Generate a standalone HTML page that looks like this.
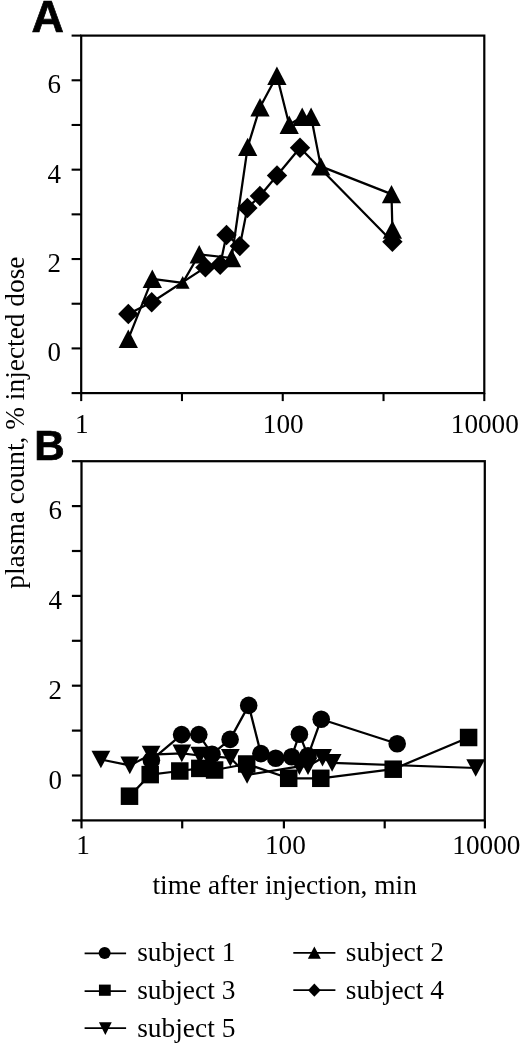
<!DOCTYPE html>
<html lang="en"><head><meta charset="utf-8"><title>Figure</title>
<style>
html,body{margin:0;padding:0;background:#fff;}
body{width:520px;height:1045px;overflow:hidden;}
svg{display:block;}
.s{font-family:"Liberation Serif","Times New Roman",serif;fill:#000;}
.b{font-family:"Liberation Sans",Arial,sans-serif;font-weight:bold;fill:#000;}
</style></head><body>

<svg width="520" height="1045" viewBox="0 0 520 1045">
<rect width="520" height="1045" fill="#fff"/>
<defs><filter id="soft" x="0" y="0" width="100%" height="100%" filterUnits="objectBoundingBox"><feGaussianBlur stdDeviation="0.38"/></filter></defs>
<g filter="url(#soft)">
<rect width="520" height="1045" fill="#fff"/>
<g stroke="#000" fill="none" stroke-linecap="butt">
<rect x="81.2" y="35.6" width="403.10" height="357.50" stroke-width="2.2"/>
<line x1="71.60000000000001" y1="393.10" x2="81.2" y2="393.10" stroke-width="2.1"/>
<line x1="71.60000000000001" y1="348.41" x2="81.2" y2="348.41" stroke-width="2.1"/>
<line x1="71.60000000000001" y1="303.73" x2="81.2" y2="303.73" stroke-width="2.1"/>
<line x1="71.60000000000001" y1="259.04" x2="81.2" y2="259.04" stroke-width="2.1"/>
<line x1="71.60000000000001" y1="214.35" x2="81.2" y2="214.35" stroke-width="2.1"/>
<line x1="71.60000000000001" y1="169.66" x2="81.2" y2="169.66" stroke-width="2.1"/>
<line x1="71.60000000000001" y1="124.98" x2="81.2" y2="124.98" stroke-width="2.1"/>
<line x1="71.60000000000001" y1="80.29" x2="81.2" y2="80.29" stroke-width="2.1"/>
<line x1="71.60000000000001" y1="35.60" x2="81.2" y2="35.60" stroke-width="2.1"/>
<line x1="81.20" y1="393.1" x2="81.20" y2="401.1" stroke-width="2.1"/>
<line x1="181.98" y1="393.1" x2="181.98" y2="401.1" stroke-width="2.1"/>
<line x1="282.75" y1="393.1" x2="282.75" y2="401.1" stroke-width="2.1"/>
<line x1="383.53" y1="393.1" x2="383.53" y2="401.1" stroke-width="2.1"/>
<line x1="484.30" y1="393.1" x2="484.30" y2="401.1" stroke-width="2.1"/>
</g>
<text class="s" transform="translate(60.9,361.41) scale(0.97,1)" font-size="27.8" text-anchor="end">0</text>
<text class="s" transform="translate(60.9,272.04) scale(0.97,1)" font-size="27.8" text-anchor="end">2</text>
<text class="s" transform="translate(60.9,182.66) scale(0.97,1)" font-size="27.8" text-anchor="end">4</text>
<text class="s" transform="translate(60.9,93.29) scale(0.97,1)" font-size="27.8" text-anchor="end">6</text>
<text class="s" transform="translate(81.70,432.8) scale(0.98,1)" font-size="27.8" text-anchor="middle">1</text>
<text class="s" transform="translate(283.25,432.8) scale(0.98,1)" font-size="27.8" text-anchor="middle">100</text>
<text class="s" transform="translate(484.80,432.8) scale(0.98,1)" font-size="27.8" text-anchor="middle">10000</text>
<polyline fill="none" stroke="#000" stroke-width="2.25" stroke-linejoin="round" points="128.30,338.80 152.30,278.80 182.70,282.90 199.20,254.30 231.60,258.00 247.70,146.90 260.00,107.20 276.90,75.80 289.20,124.80 302.20,116.80 311.10,116.80 320.80,166.40 391.50,194.10 392.40,229.60"/>
<polyline fill="none" stroke="#000" stroke-width="2.25" stroke-linejoin="round" points="128.30,314.00 151.70,302.30 205.40,267.40 220.20,264.80 226.50,235.00 239.80,246.10 247.40,208.00 259.90,196.00 277.00,175.50 300.00,147.80 392.40,241.70"/>
<g fill="#000">
<polygon points="118.65,348.00 137.95,348.00 128.30,329.60"/>
<polygon points="142.65,288.00 161.95,288.00 152.30,269.60"/>
<polygon points="175.80,288.70 189.60,288.70 182.70,276.10"/>
<polygon points="189.55,263.50 208.85,263.50 199.20,245.10"/>
<polygon points="221.95,267.20 241.25,267.20 231.60,248.80"/>
<polygon points="238.05,156.10 257.35,156.10 247.70,137.70"/>
<polygon points="250.35,116.40 269.65,116.40 260.00,98.00"/>
<polygon points="267.25,85.00 286.55,85.00 276.90,66.60"/>
<polygon points="279.55,134.00 298.85,134.00 289.20,115.60"/>
<polygon points="292.55,126.00 311.85,126.00 302.20,107.60"/>
<polygon points="301.45,126.00 320.75,126.00 311.10,107.60"/>
<polygon points="311.15,175.60 330.45,175.60 320.80,157.20"/>
<polygon points="381.85,203.30 401.15,203.30 391.50,184.90"/>
<polygon points="382.75,238.80 402.05,238.80 392.40,220.40"/>
<polygon points="118.10,314.00 128.30,303.80 138.50,314.00 128.30,324.20"/>
<polygon points="141.50,302.30 151.70,292.10 161.90,302.30 151.70,312.50"/>
<polygon points="195.20,267.40 205.40,257.20 215.60,267.40 205.40,277.60"/>
<polygon points="210.00,264.80 220.20,254.60 230.40,264.80 220.20,275.00"/>
<polygon points="216.30,235.00 226.50,224.80 236.70,235.00 226.50,245.20"/>
<polygon points="229.60,246.10 239.80,235.90 250.00,246.10 239.80,256.30"/>
<polygon points="237.20,208.00 247.40,197.80 257.60,208.00 247.40,218.20"/>
<polygon points="249.70,196.00 259.90,185.80 270.10,196.00 259.90,206.20"/>
<polygon points="266.80,175.50 277.00,165.30 287.20,175.50 277.00,185.70"/>
<polygon points="289.80,147.80 300.00,137.60 310.20,147.80 300.00,158.00"/>
<polygon points="382.20,241.70 392.40,231.50 402.60,241.70 392.40,251.90"/>
</g>
<g stroke="#000" fill="none" stroke-linecap="butt">
<rect x="81.5" y="461.2" width="403.30" height="359.20" stroke-width="2.25"/>
<line x1="71.9" y1="820.40" x2="81.5" y2="820.40" stroke-width="2.2"/>
<line x1="71.9" y1="775.50" x2="81.5" y2="775.50" stroke-width="2.2"/>
<line x1="71.9" y1="730.60" x2="81.5" y2="730.60" stroke-width="2.2"/>
<line x1="71.9" y1="685.70" x2="81.5" y2="685.70" stroke-width="2.2"/>
<line x1="71.9" y1="640.80" x2="81.5" y2="640.80" stroke-width="2.2"/>
<line x1="71.9" y1="595.90" x2="81.5" y2="595.90" stroke-width="2.2"/>
<line x1="71.9" y1="551.00" x2="81.5" y2="551.00" stroke-width="2.2"/>
<line x1="71.9" y1="506.10" x2="81.5" y2="506.10" stroke-width="2.2"/>
<line x1="71.9" y1="461.20" x2="81.5" y2="461.20" stroke-width="2.2"/>
<line x1="81.50" y1="820.4" x2="81.50" y2="828.4" stroke-width="2.2"/>
<line x1="182.20" y1="820.4" x2="182.20" y2="828.4" stroke-width="2.2"/>
<line x1="283.90" y1="820.4" x2="283.90" y2="828.4" stroke-width="2.2"/>
<line x1="384.70" y1="820.4" x2="384.70" y2="828.4" stroke-width="2.2"/>
<line x1="484.90" y1="820.4" x2="484.90" y2="828.4" stroke-width="2.2"/>
</g>
<text class="s" transform="translate(62.1,788.50) scale(0.97,1)" font-size="27.8" text-anchor="end">0</text>
<text class="s" transform="translate(62.1,698.70) scale(0.97,1)" font-size="27.8" text-anchor="end">2</text>
<text class="s" transform="translate(62.1,608.90) scale(0.97,1)" font-size="27.8" text-anchor="end">4</text>
<text class="s" transform="translate(62.1,519.10) scale(0.97,1)" font-size="27.8" text-anchor="end">6</text>
<text class="s" transform="translate(83.00,853.8) scale(0.98,1)" font-size="27.8" text-anchor="middle">1</text>
<text class="s" transform="translate(285.40,853.8) scale(0.98,1)" font-size="27.8" text-anchor="middle">100</text>
<text class="s" transform="translate(486.40,853.8) scale(0.98,1)" font-size="27.8" text-anchor="middle">10000</text>
<polyline fill="none" stroke="#000" stroke-width="2.25" stroke-linejoin="round" points="151.40,760.20 181.60,734.60 198.80,734.60 212.00,754.20 230.10,739.40 248.70,705.40 260.90,753.60 275.70,758.20 291.70,756.70 299.40,734.20 308.00,755.80 321.20,719.20 397.20,743.70"/>
<polyline fill="none" stroke="#000" stroke-width="2.25" stroke-linejoin="round" points="129.50,796.20 150.20,774.60 179.80,771.00 199.80,768.40 214.60,770.00 246.70,764.00 288.70,778.30 320.80,778.30 393.20,769.20 468.60,737.50"/>
<polyline fill="none" stroke="#000" stroke-width="2.25" stroke-linejoin="round" points="100.90,759.50 129.80,765.40 151.10,754.60 181.80,753.40 199.80,755.50 230.30,757.80 247.10,775.00 299.40,766.30 308.00,766.30 322.50,757.70 332.10,762.90 475.70,768.00"/>
<g fill="#000">
<polygon points="91.50,750.70 110.30,750.70 100.90,768.30"/>
<polygon points="120.40,756.60 139.20,756.60 129.80,774.20"/>
<polygon points="141.70,745.80 160.50,745.80 151.10,763.40"/>
<polygon points="172.40,744.60 191.20,744.60 181.80,762.20"/>
<polygon points="190.40,746.70 209.20,746.70 199.80,764.30"/>
<polygon points="220.90,749.00 239.70,749.00 230.30,766.60"/>
<polygon points="237.70,766.20 256.50,766.20 247.10,783.80"/>
<polygon points="290.00,757.50 308.80,757.50 299.40,775.10"/>
<polygon points="298.60,757.50 317.40,757.50 308.00,775.10"/>
<polygon points="313.10,748.90 331.90,748.90 322.50,766.50"/>
<polygon points="322.70,754.10 341.50,754.10 332.10,771.70"/>
<polygon points="466.30,759.20 485.10,759.20 475.70,776.80"/>
<rect x="120.75" y="787.45" width="17.5" height="17.5"/>
<rect x="141.45" y="765.85" width="17.5" height="17.5"/>
<rect x="171.05" y="762.25" width="17.5" height="17.5"/>
<rect x="191.05" y="759.65" width="17.5" height="17.5"/>
<rect x="205.85" y="761.25" width="17.5" height="17.5"/>
<rect x="237.95" y="755.25" width="17.5" height="17.5"/>
<rect x="279.95" y="769.55" width="17.5" height="17.5"/>
<rect x="312.05" y="769.55" width="17.5" height="17.5"/>
<rect x="384.45" y="760.45" width="17.5" height="17.5"/>
<rect x="459.85" y="728.75" width="17.5" height="17.5"/>
<circle cx="151.40" cy="760.20" r="8.8"/>
<circle cx="181.60" cy="734.60" r="8.8"/>
<circle cx="198.80" cy="734.60" r="8.8"/>
<circle cx="212.00" cy="754.20" r="8.8"/>
<circle cx="230.10" cy="739.40" r="8.8"/>
<circle cx="248.70" cy="705.40" r="8.8"/>
<circle cx="260.90" cy="753.60" r="8.8"/>
<circle cx="275.70" cy="758.20" r="8.8"/>
<circle cx="291.70" cy="756.70" r="8.8"/>
<circle cx="299.40" cy="734.20" r="8.8"/>
<circle cx="308.00" cy="755.80" r="8.8"/>
<circle cx="321.20" cy="719.20" r="8.8"/>
<circle cx="397.20" cy="743.70" r="8.8"/>
</g>
<text class="b" transform="translate(31.4,31.8) scale(1.02,1)" font-size="44.0" stroke="#000" stroke-width="0.7">A</text>
<text class="b" transform="translate(34.2,459.7) scale(0.985,1)" font-size="42.9" stroke="#000" stroke-width="0.7">B</text>
<text class="s" transform="translate(152.5,893.8) scale(1.0135,1)" font-size="27">time after injection, min</text>
<text class="s" transform="translate(24.0,588.7) rotate(-90)" font-size="27.38">plasma count, % injected dose</text>
<line x1="84.6" y1="953.4" x2="126.1" y2="953.4" stroke="#000" stroke-width="1.7"/>
<g fill="#000">
<circle cx="104.65" cy="953.10" r="6.0"/>
</g>
<text class="s" transform="translate(137.2,961.2) scale(1.015,1)" font-size="27">subject 1</text>
<line x1="84.6" y1="991.2" x2="126.1" y2="991.2" stroke="#000" stroke-width="1.7"/>
<g fill="#000">
<rect x="98.95" y="984.60" width="11.8" height="11.2"/>
</g>
<text class="s" transform="translate(137.2,999.3) scale(1.015,1)" font-size="27">subject 3</text>
<line x1="84.6" y1="1028.2" x2="126.1" y2="1028.2" stroke="#000" stroke-width="1.7"/>
<g fill="#000">
<polygon points="98.95,1022.30 111.75,1022.30 105.35,1034.90"/>
</g>
<text class="s" transform="translate(137.2,1036.8) scale(1.015,1)" font-size="27">subject 5</text>
<line x1="293.3" y1="952.9" x2="335.4" y2="952.9" stroke="#000" stroke-width="1.7"/>
<g fill="#000">
<polygon points="307.85,958.80 320.85,958.80 314.35,946.40"/>
</g>
<text class="s" transform="translate(345.8,961.2) scale(1.015,1)" font-size="27">subject 2</text>
<line x1="293.3" y1="990.2" x2="335.4" y2="990.2" stroke="#000" stroke-width="1.7"/>
<g fill="#000">
<polygon points="308.05,990.20 314.35,983.60 320.65,990.20 314.35,996.80"/>
</g>
<text class="s" transform="translate(345.8,999.3) scale(1.015,1)" font-size="27">subject 4</text>
</g>
</svg>
</body></html>
